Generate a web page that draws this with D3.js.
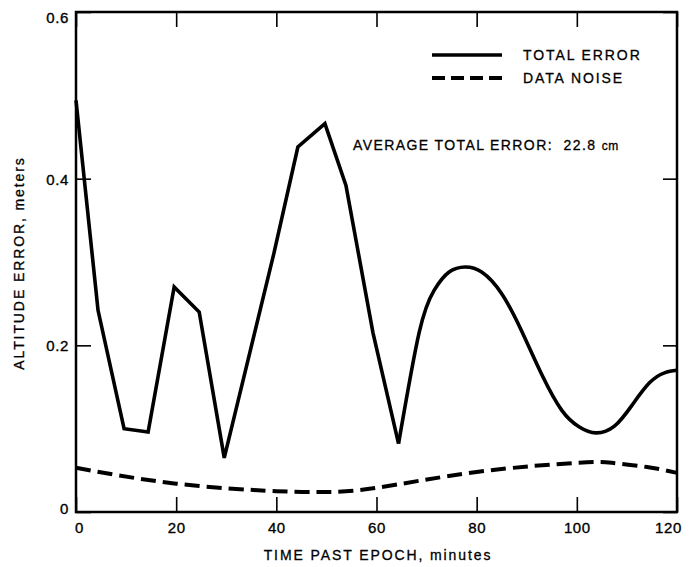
<!DOCTYPE html>
<html>
<head>
<meta charset="utf-8">
<script src="https://cdn.jsdelivr.net/npm/d3@7"></script>
<style>
  html, body { margin: 0; padding: 0; background: #fff; }
  svg { display: block; font-family: "Liberation Sans", Arial, Helvetica, sans-serif; }
</style>
</head>
<body>
<svg id="chart" width="696" height="567"></svg>
<script>
// ---- data ----
// Total error: piecewise-straight part (0 to ~64 min)
const totalMinutesA = [0, 4.4, 9.6, 14.4, 19.6, 24.6, 29.6, 39.5, 44.3, 49.7, 53.9, 59.3, 64.4];
const totalValuesA  = [0.494, 0.242, 0.100, 0.096, 0.270, 0.240, 0.065, 0.310, 0.438, 0.466, 0.392, 0.215, 0.082];
// Total error: smooth part (~64 to 120 min)
const totalMinutesB = [64.4, 68.5, 71.5, 74.5, 77.7, 81, 85, 89, 93, 97, 100.5, 103.8, 107.5, 111, 114.5, 117.5, 120];
const totalValuesB  = [0.082, 0.215, 0.266, 0.288, 0.294, 0.288, 0.262, 0.217, 0.165, 0.122, 0.102, 0.095, 0.103, 0.128, 0.155, 0.167, 0.170];
// Data noise
const noiseMinutes = [0, 20, 40, 50, 60, 80, 100, 107, 114, 120];
const noiseValues  = [0.053, 0.034, 0.025, 0.024, 0.029, 0.048, 0.059, 0.059, 0.054, 0.047];

const xTicks = [0, 20, 40, 60, 80, 100, 120];
const xTickLabels = ["0", "20", "40", "60", "80", "100", "120"];
const yTicks = [0, 0.2, 0.4, 0.6];
const yTickLabels = ["0", "0.2", "0.4", "0.6"];

const seriesNames = ["TOTAL ERROR", "DATA NOISE"];
const averageLabel = "AVERAGE TOTAL ERROR:  22.8 ";
const averageUnit = "cm";
const xTitle = "TIME PAST EPOCH, minutes";
const yTitle = "ALTITUDE ERROR, meters";

// ---- drawing ----
const svg = d3.select("#chart");
const L = 76, R = 677, T = 12, B = 512;
const x = d3.scaleLinear().domain([0, 120]).range([L, R]);
const y = d3.scaleLinear().domain([0, 0.6]).range([B, T]);

svg.append("rect").attr("width", 696).attr("height", 567).attr("fill", "#fff");

// axes (ticks inward)
const fontSize = 15;
const gB = svg.append("g").attr("transform", `translate(0,${B})`)
  .call(d3.axisBottom(x).tickValues(xTicks).tickFormat((d, i) => xTickLabels[i])
        .tickSizeInner(-15).tickSizeOuter(0).tickPadding(10));
gB.selectAll("text").attr("dx", (d, i) => i === 0 ? 3 : (i === xTicks.length - 1 ? -9 : 0));

const gT = svg.append("g").attr("transform", `translate(0,${T})`)
  .call(d3.axisTop(x).tickValues(xTicks).tickFormat("").tickSizeInner(-15).tickSizeOuter(0));

const gL = svg.append("g").attr("transform", `translate(${L},0)`)
  .call(d3.axisLeft(y).tickValues(yTicks).tickFormat((d, i) => yTickLabels[i])
        .tickSizeInner(-15).tickSizeOuter(0).tickPadding(7));
gL.selectAll("text").attr("dy", (d, i) => i === 0 ? "0.13em" : (i === yTicks.length - 1 ? "0.73em" : "0.36em"));

const gR = svg.append("g").attr("transform", `translate(${R},0)`)
  .call(d3.axisRight(y).tickValues(yTicks).tickFormat("").tickSizeInner(-14).tickSizeOuter(0));

[gB, gT, gL, gR].forEach(g => {
  g.select(".domain").remove();
  g.selectAll("line").attr("stroke", "#000").attr("stroke-width", 1.6);
  g.selectAll("text").attr("fill", "#000").attr("font-size", fontSize)
    .attr("letter-spacing", 0.6).attr("stroke", "#000").attr("stroke-width", 0.35)
    .attr("font-family", "'Liberation Sans', Arial, Helvetica, sans-serif");
});

// frame
svg.append("rect").attr("x", L).attr("y", T).attr("width", R - L).attr("height", B - T)
  .attr("fill", "none").attr("stroke", "#000").attr("stroke-width", 2.5);

// lines
const lineLin = d3.line().x(d => x(d[0])).y(d => y(d[1])).curve(d3.curveLinear);
const lineSmooth = d3.line().x(d => x(d[0])).y(d => y(d[1])).curve(d3.curveNatural);

const ptsA = totalMinutesA.map((m, i) => [m, totalValuesA[i]]);
const ptsB = totalMinutesB.map((m, i) => [m, totalValuesB[i]]);
const ptsN = noiseMinutes.map((m, i) => [m, noiseValues[i]]);

svg.append("path").attr("d", lineLin(ptsA)).attr("fill", "none").attr("stroke", "#000")
  .attr("stroke-width", 3.6).attr("stroke-linejoin", "miter").attr("stroke-miterlimit", 3);
svg.append("path").attr("d", lineSmooth(ptsB)).attr("fill", "none").attr("stroke", "#000")
  .attr("stroke-width", 3.6).attr("stroke-linejoin", "round");
svg.append("path").attr("d", lineSmooth(ptsN)).attr("fill", "none").attr("stroke", "#000")
  .attr("stroke-width", 4).attr("stroke-dasharray", "15,7");

// legend
const textStyle = s => s.attr("fill", "#000").attr("font-size", 14).attr("letter-spacing", 1.9)
  .attr("stroke", "#000").attr("stroke-width", 0.3);
svg.append("line").attr("x1", 432).attr("x2", 502).attr("y1", 55).attr("y2", 55)
  .attr("stroke", "#000").attr("stroke-width", 3.6);
svg.append("line").attr("x1", 432).attr("x2", 502).attr("y1", 78).attr("y2", 78)
  .attr("stroke", "#000").attr("stroke-width", 4).attr("stroke-dasharray", "13,6");
svg.append("text").attr("x", 523).attr("y", 60).text(seriesNames[0]).call(textStyle);
svg.append("text").attr("x", 523).attr("y", 83).text(seriesNames[1]).call(textStyle);

const avg = svg.append("text").attr("x", 353).attr("y", 150).call(textStyle).attr("letter-spacing", 1.4)
  .attr("xml:space", "preserve").style("white-space", "pre");
avg.append("tspan").text(averageLabel);
avg.append("tspan").attr("font-size", 12).attr("letter-spacing", 0.5).text(averageUnit);

// axis titles
svg.append("text").attr("x", 378).attr("y", 560).attr("text-anchor", "middle").text(xTitle).call(textStyle);
svg.append("text").attr("transform", "translate(24,263) rotate(-90)").attr("text-anchor", "middle")
  .text(yTitle).call(textStyle);
</script>
</body>
</html>
